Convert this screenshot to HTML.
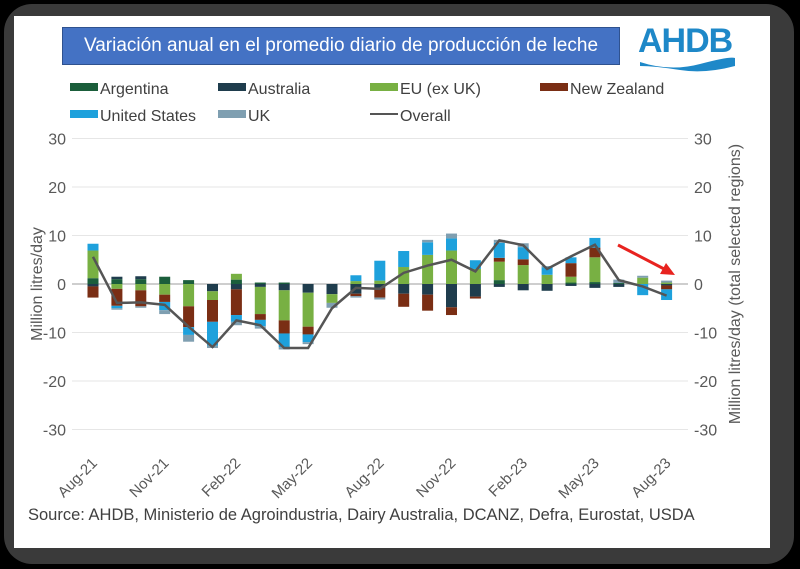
<!DOCTYPE html>
<html><head><meta charset="utf-8"><style>
body{margin:0;width:800px;height:569px;background:#000;overflow:hidden;font-family:"Liberation Sans",sans-serif}
#frame{position:absolute;left:4px;top:4px;width:790px;height:560px;border-radius:28px;background:#3a3a3a}
#panel{position:absolute;left:14px;top:16px;width:756px;height:532px;background:#fff}
#title{position:absolute;left:62px;top:27px;width:556px;height:36px;background:#4472c4;border:1px solid #2f528f;color:#fff;font-size:19px;line-height:36px;text-align:center}
#logo{position:absolute;left:638px;top:22px;color:#1e88c8;font-size:34px;font-weight:bold;letter-spacing:-1px}
</style></head><body>
<div id="frame"></div>
<div id="panel"></div>
<div id="title">Variación anual en el promedio diario de producción de leche</div>
<div id="logo">AHDB</div>
<svg id="c" width="800" height="569" style="position:absolute;left:0;top:0"></svg>
<script>
const months=["Aug-21","Sep-21","Oct-21","Nov-21","Dec-21","Jan-22","Feb-22","Mar-22","Apr-22","May-22","Jun-22","Jul-22","Aug-22","Sep-22","Oct-22","Nov-22","Dec-22","Jan-23","Feb-23","Mar-23","Apr-23","May-23","Jun-23","Jul-23","Aug-23"];
const tickMonths=["Aug-21","Nov-21","Feb-22","May-22","Aug-22","Nov-22","Feb-23","May-23","Aug-23"];
const argentina=[1.2,1.0,1.0,1.5,0.8,0,0.9,0.3,0.3,0,0,0,0,0,0,0,0,0.8,0,0,0.3,0.4,0.2,0,0];
const australia=[-0.5,0.5,0.6,0,0,-1.5,-1.1,-0.6,-1.3,-1.8,-2.1,-2.0,-0.8,-2.0,-2.2,-4.8,-2.6,-0.6,-1.3,-1.4,-0.4,-0.8,-0.6,0,-0.3];
const eu=[5.7,-1.0,-1.3,-2.2,-4.6,-1.8,1.2,-5.6,-6.2,-7.0,-1.8,0.6,0.7,3.5,6.0,6.9,3.1,3.8,3.9,1.9,1.2,5.1,0,1.3,0.3];
const nz=[-2.3,-3.5,-3.3,-1.5,-4.3,-4.5,-5.3,-1.2,-2.7,-1.6,0,-0.5,-2.0,-2.7,-3.3,-1.6,-0.4,0.8,1.2,0,2.8,2.0,0,0,-0.8];
const us=[1.4,-0.5,0,-1.7,-1.6,-4.9,-1.4,-1.3,-2.8,-1.6,0,1.2,4.1,3.3,2.6,2.5,1.8,3.1,2.5,1.5,1.2,2.0,0,-2.3,-2.2];
const uk=[0,-0.3,-0.3,-0.8,-1.4,-0.5,-0.7,-0.5,-0.5,-0.4,-1.0,-0.3,-0.4,0,0.5,1.0,0,0.6,0.8,0.3,0,0,0.7,0.4,0.4];
const overall=[5.6,-3.9,-3.8,-4.3,-8.8,-13,-7.5,-8.5,-13.2,-13.2,-5,-0.8,-1.0,2.3,3.8,5.0,2.6,9.0,8.0,3.1,5.7,8.1,0.8,-0.5,-2.4];
const yTicks=[30,20,10,0,-10,-20,-30];
const seriesNames=["Argentina","Australia","EU (ex UK)","New Zealand","United States","UK"];
const series=[argentina,australia,eu,nz,us,uk];
const colors=["#1b5e3b","#1f3d4d","#78b043","#7a2e14","#1ea1dc","#7f9fb1"];
const ns="http://www.w3.org/2000/svg",svg=document.getElementById('c');
function el(t,a,p){const e=document.createElementNS(ns,t);for(const k in a)e.setAttribute(k,a[k]);(p||svg).appendChild(e);return e;}
const x0=93,dx=23.9,bw=11;
const X=i=>x0+i*dx, Y=v=>284-v*4.85;
const wave=el('path',{d:'M640 62 Q670 72 700 64 T735 58 L735 66 Q705 74 680 70 T640 66 Z',fill:'#1e88c8'});


yTicks.forEach(v=>{
 const g=el('line',{x1:72,x2:688,y1:Y(v),y2:Y(v),stroke:v===0?'#bdbdbd':'#e6e6e6','stroke-width':v===0?1.5:1});
 
 
 const l=el('text',{x:66,y:Y(v)+6,'text-anchor':'end','font-size':16,fill:'#595959'});l.textContent=v;
 
 
 const r=el('text',{x:694,y:Y(v)+6,'font-size':16,fill:'#595959'});r.textContent=v;
 
 
});
months.forEach((m,i)=>{
 let pos=0,neg=0;
 series.forEach((s,k)=>{
  const v=s[i];if(!v)return;
  let y0,y1;
  if(v>0){y0=pos;pos+=v;y1=pos;}else{y0=neg;neg+=v;y1=neg;}
  const r=el('rect',{x:X(i)-bw/2,y:Math.min(Y(y0),Y(y1)),width:bw,height:Math.abs(Y(y1)-Y(y0)),fill:colors[k]});
  
  
 });
 if(tickMonths.includes(m)){
  const t=el('text',{x:0,y:0,'text-anchor':'end','font-size':15,fill:'#595959',transform:`translate(${X(i)+5},${464}) rotate(-45)`});
  t.textContent=m;
  
  
 }
});
const line=el('polyline',{points:overall.map((v,i)=>X(i)+','+Y(v)).join(' '),fill:'none',stroke:'#555','stroke-width':2.5});


const leg=[[70,89,0],[218,89,1],[370,89,2],[540,89,3],[70,116,4],[218,116,5]];
leg.forEach(([x,y,k])=>{
 const r=el('rect',{x:x,y:y-6,width:28,height:8,fill:colors[k]});
 
 
 const t=el('text',{x:x+30,y:y+5,'font-size':16,fill:'#404040'});t.textContent=seriesNames[k];
 
 
});
const ll=el('line',{x1:370,x2:398,y1:114,y2:114,stroke:'#555','stroke-width':2});


const lt=el('text',{x:400,y:121,'font-size':16,fill:'#404040'});lt.textContent="Overall";


const a1=el('text',{x:0,y:0,'text-anchor':'middle','font-size':16,fill:'#595959',transform:'translate(42,284) rotate(-90)'});a1.textContent="Million litres/day";


const a2=el('text',{x:0,y:0,'text-anchor':'middle','font-size':16,fill:'#595959',transform:'translate(740,284) rotate(-90)'});a2.textContent="Million litres/day (total selected regions)";


const arr=el('line',{x1:618,y1:245,x2:668,y2:271,stroke:'#e8231f','stroke-width':3});


const ah=el('polygon',{points:'675,275 660,274 666,263',fill:'#e8231f'});


const src=el('text',{x:28,y:520,'font-size':16.5,fill:'#404040'});src.textContent="Source: AHDB, Ministerio de Agroindustria, Dairy Australia, DCANZ, Defra, Eurostat, USDA";


</script>
</body></html>
